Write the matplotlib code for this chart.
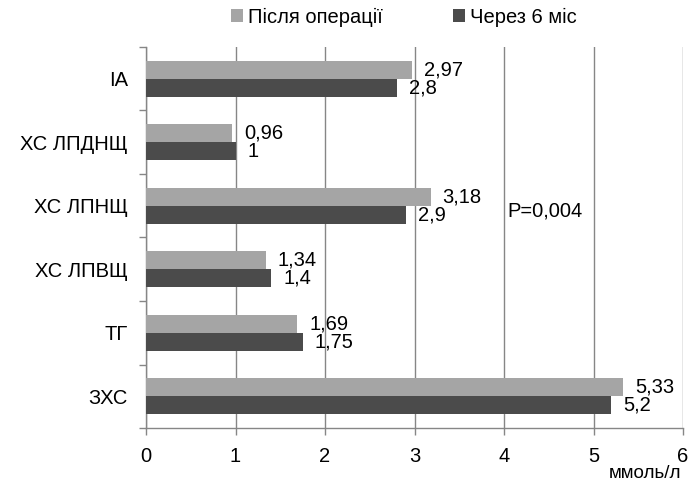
import matplotlib
matplotlib.use("Agg")
import matplotlib.pyplot as plt
import numpy as np

plt.rcParams['font.family'] = ['Liberation Sans', 'DejaVu Sans']

categories = ["IA", "ХС ЛПДНЩ", "ХС ЛПНЩ", "ХС ЛПВЩ", "ТГ", "ЗХС"]
after_op = [2.97, 0.96, 3.18, 1.34, 1.69, 5.33]
after_6m = [2.8, 1.0, 2.9, 1.4, 1.75, 5.2]
after_op_labels = ["2,97", "0,96", "3,18", "1,34", "1,69", "5,33"]
after_6m_labels = ["2,8", "1", "2,9", "1,4", "1,75", "5,2"]
series_names = ["Після операції", "Через 6 міс"]
x_ticks = [0, 1, 2, 3, 4, 5, 6]
p_text = "P=0,004"
unit = "ммоль/л"

light = "#A5A5A5"
dark = "#4B4B4B"
grid_c = "#868686"
fs = 14.5

fig = plt.figure(figsize=(6.97, 4.83), dpi=100)
ax = fig.add_axes([146/697, 1 - 428/483, (683 - 146)/697, (428 - 47)/483])

y = np.arange(len(categories))
h = 0.28
b1 = ax.barh(y - h/2, after_op, height=h, color=light, label=series_names[0], zorder=3)
b2 = ax.barh(y + h/2, after_6m, height=h, color=dark, label=series_names[1], zorder=3)

for yi, v, lab in zip(y - h/2, after_op, after_op_labels):
    ax.annotate(lab, (v, yi), xytext=(12, 0), textcoords='offset pixels',
                ha='left', va='center', fontsize=fs, color='black', zorder=5)
for yi, v, lab in zip(y + h/2, after_6m, after_6m_labels):
    ax.annotate(lab, (v, yi), xytext=(12, 0), textcoords='offset pixels',
                ha='left', va='center', fontsize=fs, color='black', zorder=5)

ax.text(4.04, 2.08, p_text, ha='left', va='center', fontsize=fs, color='black', zorder=5)

ax.set_xlim(0, 6)
ax.set_ylim(len(categories) - 0.5, -0.5)
ax.set_xticks(x_ticks)
ax.set_xticklabels([str(t) for t in x_ticks], fontsize=fs)
ax.set_yticks(y)
ax.set_yticklabels(categories, fontsize=fs)
ax.set_yticks(np.arange(-0.5, len(categories), 1), minor=True)
ax.tick_params(axis='y', which='major', length=0, pad=13)
ax.tick_params(axis='y', which='minor', length=5, color=grid_c, width=1)
ax.tick_params(axis='x', which='major', length=5, color=grid_c, width=1, pad=9)

ax.grid(axis='x', color=grid_c, linewidth=1, zorder=0)
for s in ['top', 'right']:
    ax.spines[s].set_visible(False)
for s in ['left', 'bottom']:
    ax.spines[s].set_color(grid_c)
    ax.spines[s].set_linewidth(1)

fig.text(681/697, 1 - 478/483, unit, ha='right', va='baseline', fontsize=13.5)

fig.legend(handles=[b1, b2], labels=series_names, loc='center', bbox_to_anchor=(404/697, 1 - 17/483),
           ncol=2, frameon=False, fontsize=fs, handlelength=0.6, handleheight=0.6,
           handletextpad=0.25, columnspacing=3.5)

fig.savefig("out.png", dpi=100)
